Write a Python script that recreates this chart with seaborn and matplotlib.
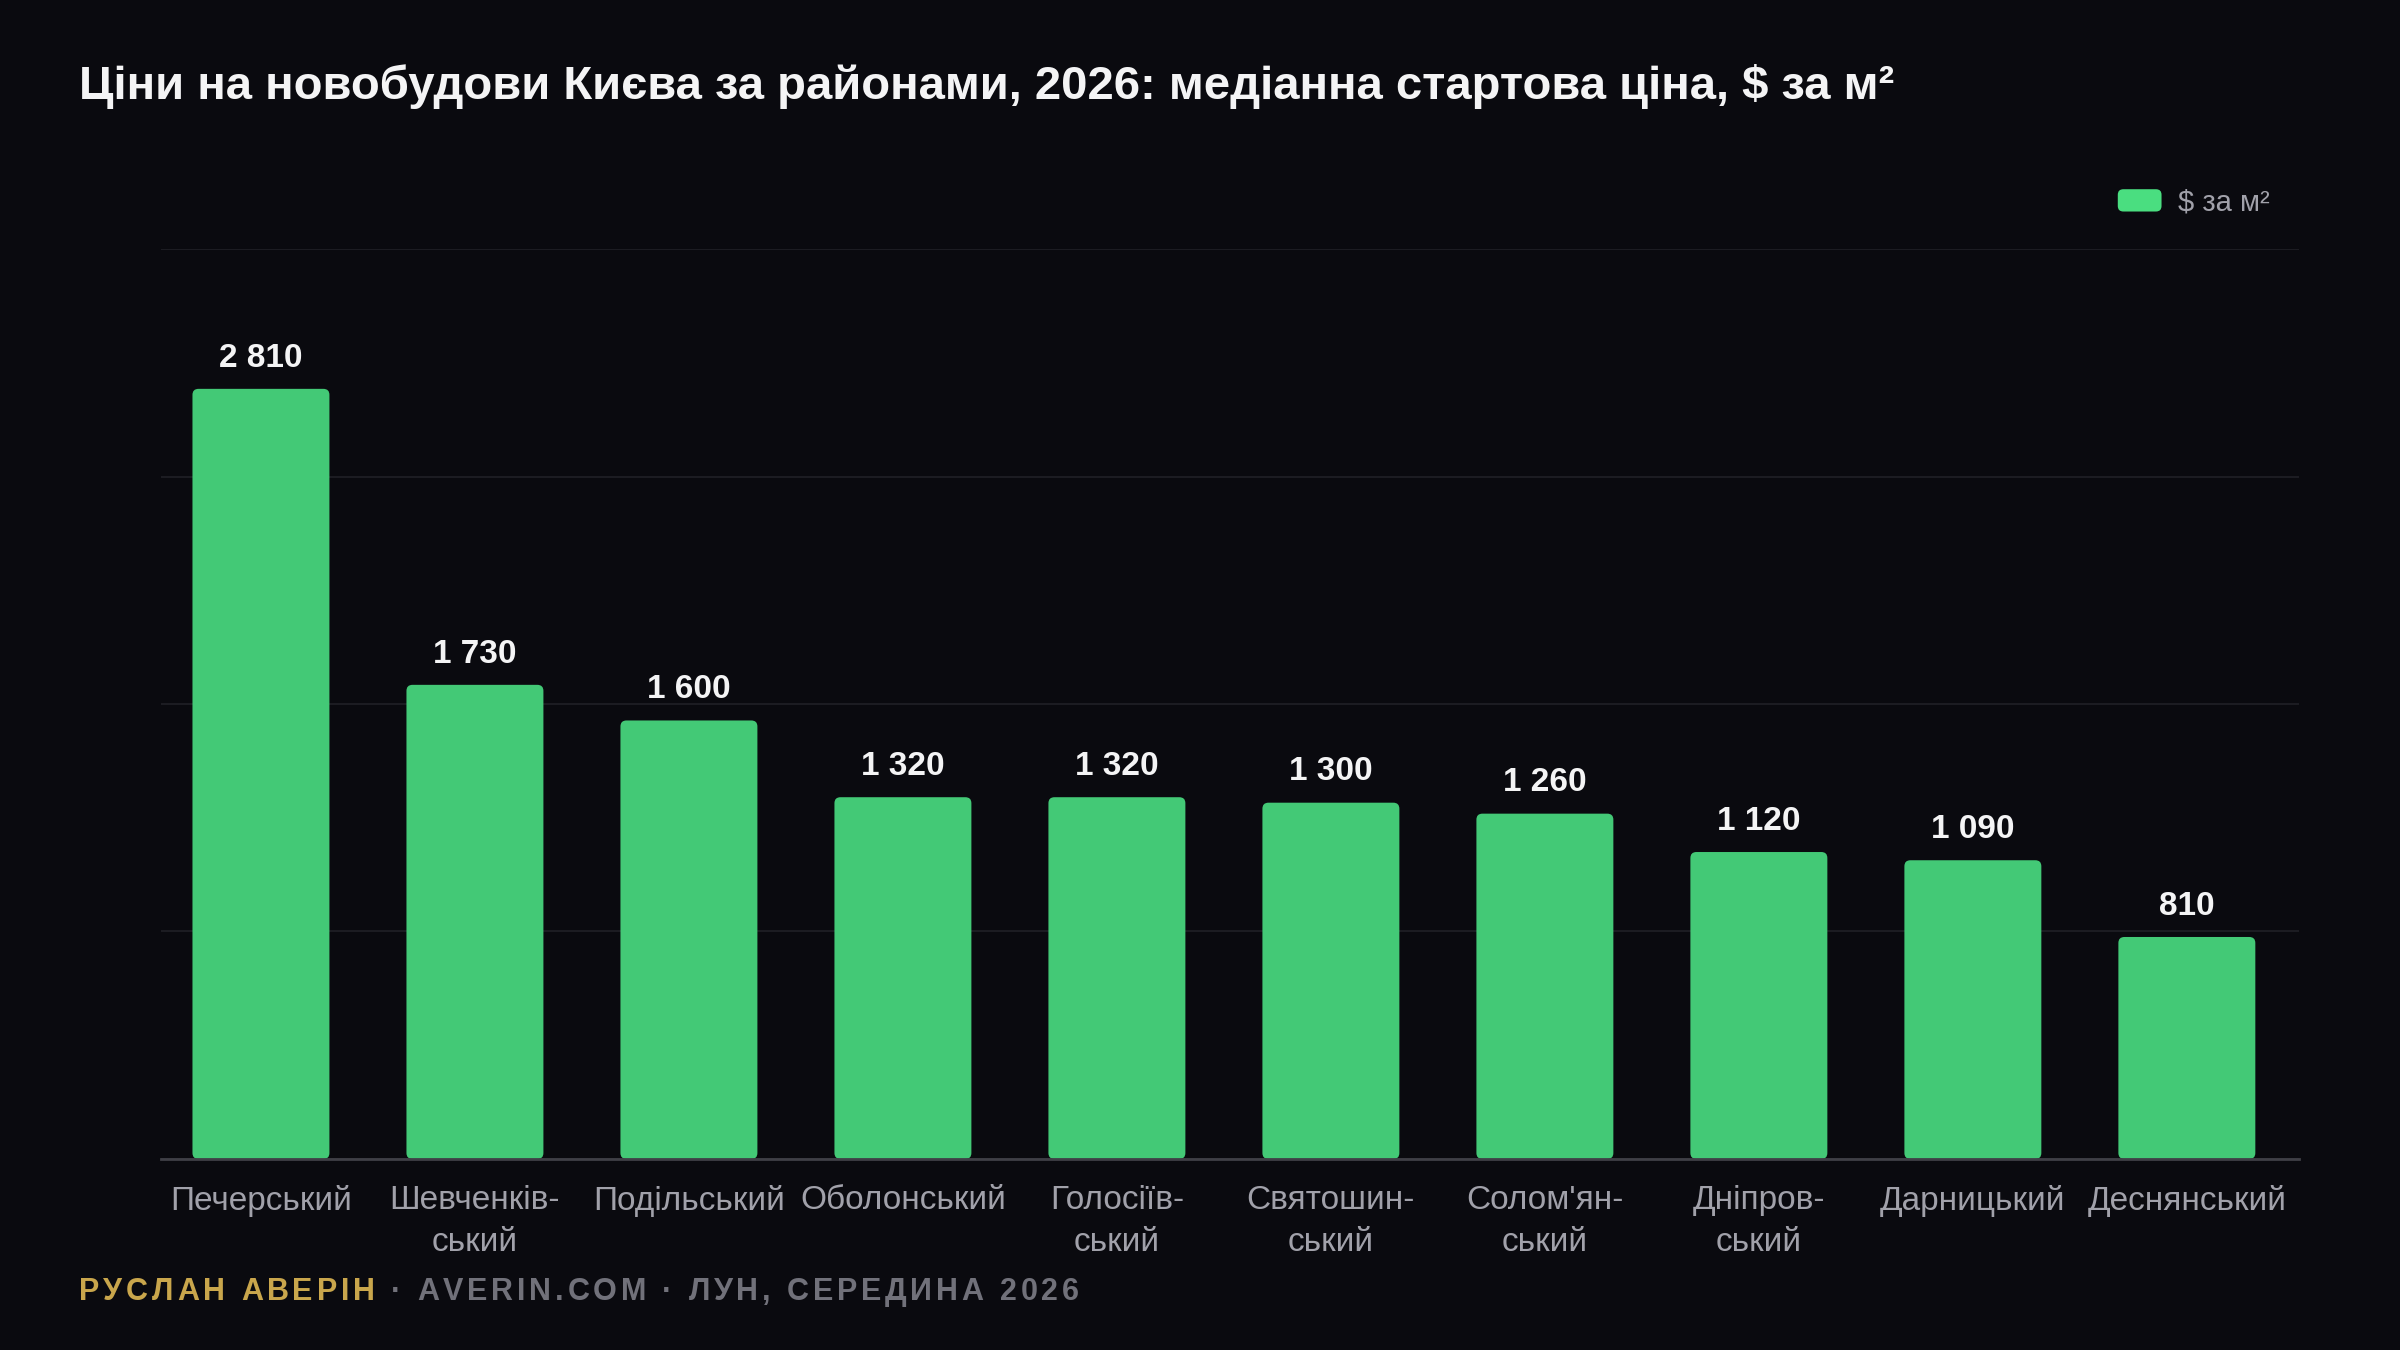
import matplotlib
matplotlib.use('Agg')
import matplotlib.pyplot as plt
from matplotlib.patches import FancyBboxPatch, Patch
from matplotlib.legend_handler import HandlerPatch
import seaborn as sns

# Дані
districts = ['Печерський', 'Шевченків-\nський', 'Подільський', 'Оболонський',
             'Голосіїв-\nський', 'Святошин-\nський', "Солом'ян-\nський",
             'Дніпров-\nський', 'Дарницький', 'Деснянський']
prices = [2810, 1730, 1600, 1320, 1320, 1300, 1260, 1120, 1090, 810]
grid_ticks = [0, 830, 1660, 2490, 3320]

title = 'Ціни на новобудови Києва за районами, 2026: медіанна стартова ціна, $ за м²'
legend_label = '$ за м²'
footer_author = 'РУСЛАН АВЕРІН'
footer_rest = ' · AVERIN.COM · ЛУН, СЕРЕДИНА 2026'

BG = '#0a0a0f'
GREEN = '#4ade80'
BAR = '#43c976'

sns.set_theme(style='dark')
plt.rcParams['font.family'] = ['Liberation Sans', 'DejaVu Sans']

fig = plt.figure(figsize=(24, 13.5), dpi=100, facecolor=BG)
ax = fig.add_axes([0.067, 0.1415, 0.891, 0.674], facecolor=BG)

sns.barplot(x=list(range(len(prices))), y=prices, color=BAR, saturation=1,
            width=0.64, ax=ax, zorder=3)

ax.set_ylim(0, grid_ticks[-1])
ax.set_xlim(-0.468, len(prices) - 0.475)
ax.set_yticks(grid_ticks)
ax.set_yticklabels([])
ax.grid(axis='y', color='#1c1c22', linewidth=1.5, zorder=0)
ax.grid(axis='x', visible=False)
for s in ['top', 'right', 'left']:
    ax.spines[s].set_visible(False)
ax.spines['bottom'].set_color('#3f3f46')
ax.spines['bottom'].set_linewidth(2)
ax.spines['bottom'].set_zorder(5)
ax.tick_params(axis='y', length=0)
ax.tick_params(axis='x', length=0, pad=19, labelsize=24, labelcolor='#a1a1aa')
ax.set_xticks(range(len(districts)))
ax.set_xticklabels(districts, linespacing=1.45, va='top')
ax.set_xlabel('')
ax.set_ylabel('')

# скруглені кути стовпчиків
fig.canvas.draw()
p0 = ax.transData.transform((0, 0))
p1 = ax.transData.transform((1, 1))
px_x = p1[0] - p0[0]
px_y = p1[1] - p0[1]
radius_px = 6
for bar in list(ax.patches):
    x, y = bar.get_x(), bar.get_y()
    w, h = bar.get_width(), bar.get_height()
    bar.remove()
    fb = FancyBboxPatch((x, y), w, h,
                        boxstyle=f'round,pad=0,rounding_size={radius_px / px_x}',
                        mutation_aspect=px_x / px_y,
                        facecolor=BAR, edgecolor='none', zorder=3)
    ax.add_patch(fb)

for i, v in enumerate(prices):
    ax.annotate(f'{v:,}'.replace(',', ' '), (i, v), xytext=(0, 11),
                textcoords='offset points', ha='center', va='bottom',
                fontsize=24, fontweight='bold', color='#f4f4f5', zorder=6)

fig.text(0.033, 0.936, title, fontsize=34, fontweight='bold', color='#f4f4f5',
         va='center', ha='left')


def rounded_handle(legend, orig_handle, xdescent, ydescent, width, height, fontsize):
    return FancyBboxPatch((-xdescent, -ydescent), width, height,
                          boxstyle='round,pad=0,rounding_size=4')


ax.legend(handles=[Patch(facecolor=GREEN, edgecolor='none', label=legend_label)],
          handler_map={Patch: HandlerPatch(patch_func=rounded_handle)},
          loc='center right', bbox_to_anchor=(0.9455, 0.850),
          bbox_transform=fig.transFigure, frameon=False, fontsize=21,
          labelcolor='#a1a1aa', handlelength=1.5, handleheight=0.8,
          handletextpad=0.55, borderaxespad=0, borderpad=0)

# підпис з розрядкою
renderer = fig.canvas.get_renderer()
x = 0.033 * fig.bbox.width
spacing = 3.8
for part, col in [(footer_author, '#c9a64c'), (footer_rest, '#71717a')]:
    for ch in part:
        t = fig.text(x / fig.bbox.width, 0.043, ch, fontsize=22, fontweight='bold',
                     color=col, va='center', ha='left')
        if ch == ' ':
            w = 22 * 100 / 72 * 0.28
        else:
            w = t.get_window_extent(renderer).width
        x += w + spacing

fig.savefig('out.png', dpi=100, facecolor=BG)
